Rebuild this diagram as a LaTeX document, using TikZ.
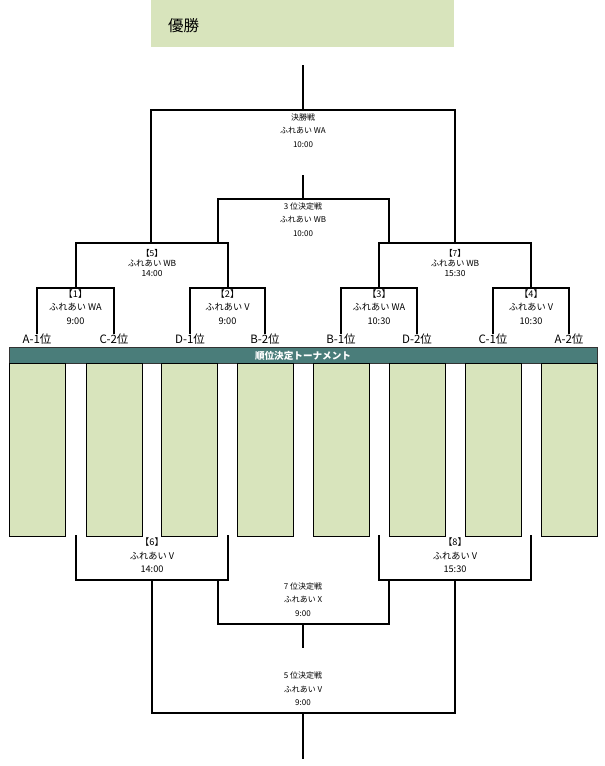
\documentclass[tikz,border=0pt]{standalone}
\usepackage{fontspec}
\setmainfont{Noto Sans CJK JP}
\definecolor{champ}{HTML}{D8E4BC}
\definecolor{barteal}{HTML}{4A7D7A}
\tikzset{
  ln/.style={line width=1.1pt, line cap=rect},
  lblS/.style={font=\fontsize{8}{13.5}\selectfont, align=center, inner sep=0pt, anchor=north},
  lblM/.style={font=\fontsize{8.4}{10.2}\selectfont, align=center, inner sep=0pt, anchor=north},
  lblL/.style={font=\fontsize{9.2}{13.5}\selectfont, align=center, inner sep=0pt, anchor=north},
  team/.style={font=\fontsize{11.5}{12}\selectfont, inner sep=0pt},
  slot/.style={fill=champ, draw=black, line width=0.9pt},
}
\begin{document}
\begin{tikzpicture}[x=1pt,y=-1pt]
\useasboundingbox (0,0) rectangle (605,766);
% champion box
\fill[champ] (151,0) rectangle (454,47);
\node[font=\fontsize{15.5}{16}\selectfont, anchor=west, inner sep=0pt] (champ) at (168,26) {優勝};
% final
\draw[ln] (303,66) -- (303,110);
\draw[ln] (151,243) -- (151,110) -- (455,110) -- (455,243);
\node[lblS] (final) at (303,113.5) {決勝戦\\ふれあい WA\\10:00};
% third place
\draw[ln] (303,176) -- (303,199);
\draw[ln] (218,243) -- (218,199) -- (389,199) -- (389,243);
\draw[line width=2pt] (218,199) -- (389,199);
\node[lblS] (third) at (303,202.5) {3 位決定戦\\ふれあい WB\\10:00};
% semis
\draw[ln] (76,288) -- (76,243) -- (228,243) -- (228,288);
\node[lblM] (m5) at (152,249) {【5】\\ふれあい WB\\14:00};
\draw[ln] (379,288) -- (379,243) -- (531,243) -- (531,288);
\node[lblM] (m7) at (455,249) {【7】\\ふれあい WB\\15:30};
% first round
\draw[ln] (37,333) -- (37,288) -- (114,288) -- (114,333);
\node[lblL] (m1) at (75.5,289.5) {【1】\\ふれあい WA\\9:00};
\draw[ln] (190,333) -- (190,288) -- (265,288) -- (265,333);
\node[lblL] (m2) at (227.5,289.5) {【2】\\ふれあい V\\9:00};
\draw[ln] (341,333) -- (341,288) -- (417,288) -- (417,333);
\node[lblL] (m3) at (379,289.5) {【3】\\ふれあい WA\\10:30};
\draw[ln] (493,333) -- (493,288) -- (569,288) -- (569,333);
\node[lblL] (m4) at (531,289.5) {【4】\\ふれあい V\\10:30};
% team labels
\node[team] (t1) at (37,339) {A-1位};
\node[team] (t2) at (114,339) {C-2位};
\node[team] (t3) at (190,339) {D-1位};
\node[team] (t4) at (265,339) {B-2位};
\node[team] (t5) at (341,339) {B-1位};
\node[team] (t6) at (417,339) {D-2位};
\node[team] (t7) at (493,339) {C-1位};
\node[team] (t8) at (569,339) {A-2位};
% bar
\filldraw[fill=barteal, draw=black!80, line width=0.8pt] (9,347) rectangle (597,363);
\node[font=\bfseries\fontsize{9.6}{10}\selectfont, text=white, inner sep=0pt] (bar) at (303,355.5) {順位決定トーナメント};
% slots
\foreach \x [count=\i] in {9,86,161,237,313,389,465,541} {
  \draw[slot] (\x,363) rectangle ++(56,173);
}
% lower brackets
\draw[ln] (76,536) -- (76,580) -- (228,580) -- (228,536);
\node[lblL] (m6) at (152,538) {【6】\\ふれあい V\\14:00};
\draw[ln] (379,536) -- (379,580) -- (531,580) -- (531,536);
\node[lblL] (m8) at (455,538) {【8】\\ふれあい V\\15:30};
% 7th place
\draw[ln] (218,580) -- (218,624) -- (389,624) -- (389,580);
\draw[ln] (303,624) -- (303,647);
\node[lblS] (seventh) at (303,582.5) {7 位決定戦\\ふれあい X\\9:00};
% 5th place
\draw[ln] (152,580) -- (152,713) -- (455,713) -- (455,580);
\draw[ln] (303,713) -- (303,758);
\node[lblS] (fifth) at (303,672) {5 位決定戦\\ふれあい V\\9:00};
\end{tikzpicture}
\end{document}
